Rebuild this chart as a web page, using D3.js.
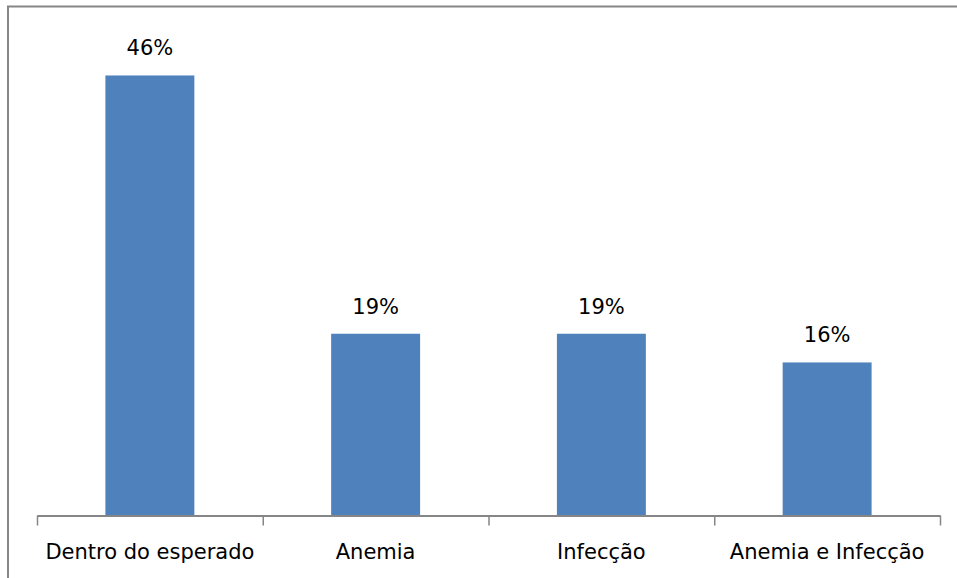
<!DOCTYPE html>
<html>
<head>
<meta charset="utf-8">
<script src="https://cdn.jsdelivr.net/npm/d3@7"></script>
<style>
  html, body { margin: 0; padding: 0; background: #fff; overflow: hidden; }
  svg { display: block; }
  text { font-family: "DejaVu Sans", sans-serif; fill: #000; }
</style>
</head>
<body>
<svg id="chart"></svg>
<script>
// Chart data
const categories = ['Dentro do esperado', 'Anemia', 'Infecção', 'Anemia e Infecção'];
const values = [0.46, 0.19, 0.19, 0.16];
const valueLabels = ['46%', '19%', '19%', '16%'];

const W = 957, H = 578;
const svg = d3.select('#chart').attr('width', W).attr('height', H);

// Outer chart border (runs past the right and bottom edges)
svg.append('rect')
  .attr('x', 8).attr('y', 6.5)
  .attr('width', 1000).attr('height', 700)
  .attr('fill', 'none')
  .attr('stroke', '#868686')
  .attr('stroke-width', 2);

// Plot area
const left = 37, right = 940, baseY = 515.5;

const x = d3.scaleBand()
  .domain(categories)
  .range([left, right])
  .paddingInner(0.606)
  .paddingOuter(0.303);

const y = d3.scaleLinear()
  .domain([0, 0.5])
  .range([baseY, baseY - 478.3]);

// Bars
svg.append('g')
  .selectAll('rect')
  .data(categories)
  .join('rect')
  .attr('x', d => x(d))
  .attr('y', (d, i) => y(values[i]))
  .attr('width', x.bandwidth())
  .attr('height', (d, i) => baseY - y(values[i]))
  .attr('fill', '#4F81BD');

// Data labels
svg.append('g')
  .selectAll('text')
  .data(categories)
  .join('text')
  .attr('x', d => x(d) + x.bandwidth() / 2)
  .attr('y', (d, i) => y(values[i]) - 20)
  .attr('text-anchor', 'middle')
  .attr('font-size', 21)
  .text((d, i) => valueLabels[i]);

// X axis with ticks at category boundaries
const xEdge = d3.scaleLinear().domain([0, categories.length]).range([left, right]);
const axis = svg.append('g')
  .attr('transform', `translate(0,${baseY})`)
  .call(d3.axisBottom(xEdge)
    .tickValues(d3.range(categories.length + 1))
    .tickFormat('')
    .tickSize(10)
    .tickSizeOuter(0));
axis.select('.domain').attr('stroke', '#868686').attr('stroke-width', 2);
axis.selectAll('.tick line').attr('stroke', '#868686').attr('stroke-width', 1.5);

// Category labels
svg.append('g')
  .selectAll('text')
  .data(categories)
  .join('text')
  .attr('x', d => x(d) + x.bandwidth() / 2)
  .attr('y', 558.5)
  .attr('text-anchor', 'middle')
  .attr('font-size', 21)
  .text(d => d);
</script>
</body>
</html>
